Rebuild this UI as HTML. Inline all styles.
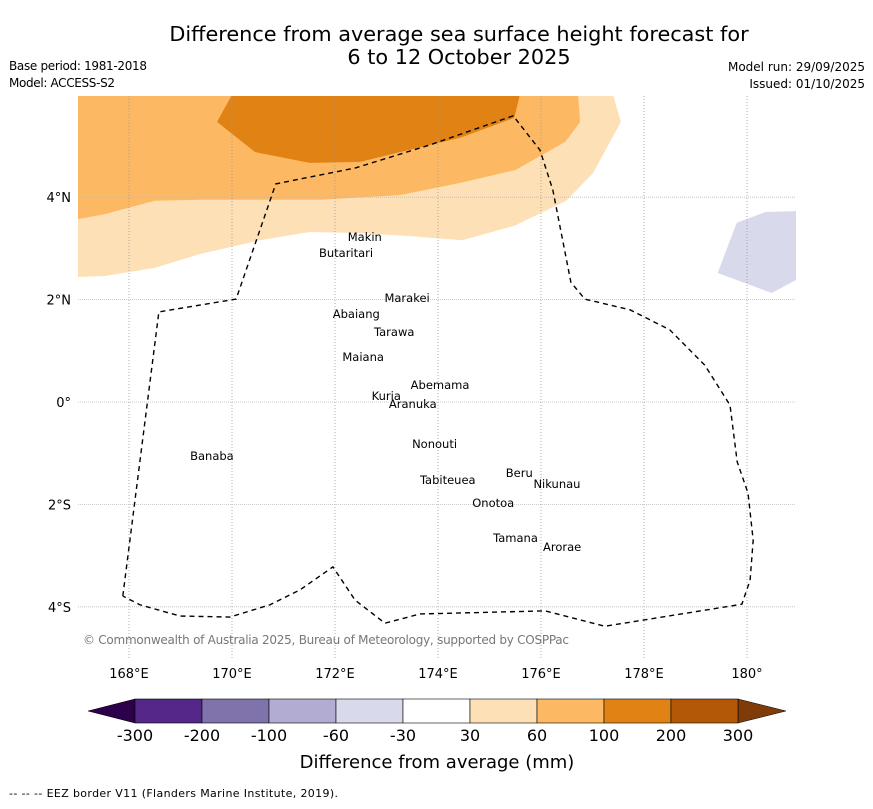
<!DOCTYPE html>
<html><head><meta charset="utf-8"><style>
body{margin:0;background:#fff;}
svg text{font-family:"DejaVu Sans","Liberation Sans",sans-serif;}
</style></head><body>
<svg id="chart" width="873" height="804" xmlns="http://www.w3.org/2000/svg">
<text x="459" y="41" font-size="20.8" text-anchor="middle">Difference from average sea surface height forecast for</text>
<text x="459" y="64" font-size="20.8" text-anchor="middle">6 to 12 October 2025</text>
<text x="9" y="70" font-size="12" textLength="138">Base period: 1981-2018</text>
<text x="9" y="87" font-size="12" textLength="106">Model: ACCESS-S2</text>
<text x="865" y="71" font-size="12" text-anchor="end">Model run: 29/09/2025</text>
<text x="865" y="88" font-size="12" text-anchor="end">Issued: 01/10/2025</text>
<g id="map"></g>
<g id="cbar"></g>
<text x="437" y="768" font-size="18" text-anchor="middle">Difference from average (mm)</text>
<text x="9" y="797" font-size="11" textLength="329">--  --  -- EEZ border V11 (Flanders Marine Institute, 2019).</text>
</svg>
<script>
const lonTicks=[168,170,172,174,176,178,180];
const lonLabels=["168°E","170°E","172°E","174°E","176°E","178°E","180°"];
const latTicks=[4,2,0,-2,-4];
const latLabels=["4°N","2°N","0°","2°S","4°S"];
const cbBounds=["-300","-200","-100","-60","-30","30","60","100","200","300"];
const cbColors=["#542788","#8073ac","#b2abd2","#d8daeb","#ffffff","#fee0b6","#fdb863","#e08214","#b35806"];
// contour polygons in [lon,lat]
const band30_60=[[167,6],[177.40,6],[177.55,5.47],[177.01,4.47],[176.49,3.93],[175.48,3.44],[174.47,3.16],[173.46,3.24],[172.49,3.30],[171.51,3.32],[170.54,3.16],[169.38,2.89],[168.50,2.62],[167.53,2.46],[167,2.44]];
const band60_100=[[167,6],[176.72,6],[176.76,5.47],[176.47,5.08],[175.50,4.53],[174.43,4.28],[173.26,4.04],[171.71,3.95],[169.38,3.95],[168.50,3.93],[167.53,3.67],[167,3.57]];
const band100_200=[[170.0,6],[175.59,6],[175.48,5.55],[174.43,5.16],[173.26,4.88],[172.49,4.69],[171.51,4.67],[170.45,4.88],[169.71,5.47]];
const bandNeg=[[179.43,2.52],[179.80,3.50],[180.36,3.71],[181.06,3.73],[181.06,2.44],[180.48,2.13]];
const eez=[[167.88,-3.79],[168.58,1.76],[170.08,2.01],[170.85,4.26],[172.39,4.57],[173.84,5.02],[175.46,5.59],[175.98,4.92],[176.23,4.14],[176.58,2.34],[176.85,2.01],[177.73,1.80],[178.50,1.41],[179.18,0.72],[179.67,-0.06],[179.81,-1.17],[180.02,-1.78],[180.12,-2.70],[180.06,-3.48],[179.90,-3.95],[177.24,-4.38],[176.08,-4.08],[173.65,-4.14],[172.97,-4.32],[172.39,-3.87],[171.96,-3.22],[171.32,-3.67],[170.74,-3.96],[169.96,-4.20],[168.99,-4.18],[168.21,-3.96],[167.88,-3.79]];
const islands=[["Makin",172.91,3.22,"end"],["Butaritari",172.74,2.91,"end"],["Marakei",173.40,2.03,"middle"],["Abaiang",172.87,1.72,"end"],["Tarawa",173.15,1.37,"middle"],["Maiana",172.95,0.88,"end"],["Abemama",174.04,0.33,"middle"],["Kuria",173.28,0.12,"end"],["Aranuka",173.51,-0.04,"middle"],["Nonouti",174.37,-0.82,"end"],["Tabiteuea",174.19,-1.52,"middle"],["Beru",175.84,-1.39,"end"],["Nikunau",176.31,-1.6,"middle"],["Onotoa",175.48,-1.97,"end"],["Tamana",175.94,-2.66,"end"],["Arorae",176.41,-2.83,"middle"],["Banaba",169.61,-1.05,"middle"]];
const X=lon=>77.5+(lon-167)*51.5;
const Y=lat=>402-lat*51.2;
const NS="http://www.w3.org/2000/svg";
const map=document.getElementById('map');
function mk(t,a,p){const e=document.createElementNS(NS,t);for(const k in a)e.setAttribute(k,a[k]);(p||map).appendChild(e);return e;}
const defs=mk('clipPath',{id:'clip'});mk('rect',{x:78,y:96,width:718,height:562},defs);
const g=mk('g',{'clip-path':'url(#clip)'});
function poly(pts,fill,name){const e=mk('polygon',{points:pts.map(p=>X(p[0])+','+Y(p[1])).join(' '),fill:fill},g);

}
poly(band30_60,"#fee0b6","contour-30-60");
poly(band60_100,"#fdb863","contour-60-100");
poly(band100_200,"#e08214","contour-100-200");
poly(bandNeg,"#d8daeb","contour-neg30-60");
lonTicks.forEach((l,i)=>{const ln=mk('line',{x1:X(l),x2:X(l),y1:96,y2:658,stroke:'#999','stroke-width':0.8,'stroke-dasharray':'1,2'},g);


const t=mk('text',{x:X(l),y:678,'font-size':13,'text-anchor':'middle'});t.textContent=lonLabels[i];

});
latTicks.forEach((l,i)=>{const ln=mk('line',{x1:78,x2:796,y1:Y(l),y2:Y(l),stroke:'#bbb','stroke-width':0.8,'stroke-dasharray':'1,1'},g);


const t=mk('text',{x:71,y:Y(l)+5,'font-size':13,'text-anchor':'end'});t.textContent=latLabels[i];

});
const ez=mk('polyline',{points:eez.map(p=>X(p[0])+','+Y(p[1])).join(' '),fill:'none',stroke:'#000','stroke-width':1.4,'stroke-dasharray':'5,4'},g);


islands.forEach(s=>{const t=mk('text',{x:X(s[1]),y:Y(s[2])+4,'font-size':11.5,'text-anchor':s[3]},g);t.textContent=s[0];

});
const cp=mk('text',{x:83,y:644,'font-size':12,fill:'#777',textLength:486},g);cp.textContent="© Commonwealth of Australia 2025, Bureau of Meteorology, supported by COSPPac";


const cb=document.getElementById('cbar');
const x0=135,w=67,y0=699,h=24;
mk('polygon',{points:`88,711 ${x0},${y0} ${x0},${y0+h}`,fill:'#2d004b',stroke:'#000','stroke-width':0.5},cb);
mk('polygon',{points:`786,711 ${x0+w*9},${y0} ${x0+w*9},${y0+h}`,fill:'#7f3b08',stroke:'#000','stroke-width':0.5},cb);
cbColors.forEach((c,i)=>{const r=mk('rect',{x:x0+i*w,y:y0,width:w,height:h,fill:c,stroke:'#000','stroke-width':0.6},cb);

});
cbBounds.forEach((b,i)=>{const t=mk('text',{x:x0+i*w,y:741,'font-size':16,'text-anchor':'middle'},cb);t.textContent=b;

});
</script>
</body></html>
